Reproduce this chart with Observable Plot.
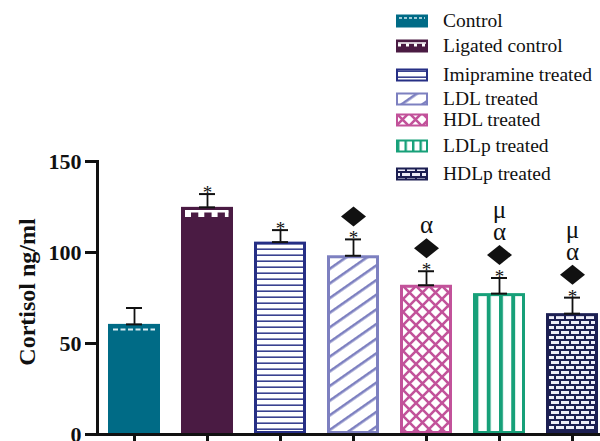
<!DOCTYPE html>
<html><head><meta charset="utf-8">
<script src="https://cdn.jsdelivr.net/npm/d3@7"></script>
<script src="https://cdn.jsdelivr.net/npm/@observablehq/plot@0.6"></script>
<style>
html,body{margin:0;padding:0;background:#fff;overflow:hidden;}
#wrap{position:relative;width:600px;height:441px;overflow:hidden;}
#legend{position:absolute;left:0;top:0;font-family:"Liberation Serif","Times New Roman",serif;font-size:19.5px;color:#111;}
.row{position:absolute;display:flex;align-items:center;white-space:nowrap;height:24px;}
.row svg{display:block;}
</style></head><body>
<svg width="0" height="0" style="position:absolute">
<defs>
  <pattern id="pImip" patternUnits="userSpaceOnUse" width="10" height="6">
    <rect width="10" height="6" fill="#fff"/>
    <rect y="2.4" width="10" height="1.6" fill="#3a4290"/>
  </pattern>
  <pattern id="pLDL" patternUnits="userSpaceOnUse" width="14" height="12" patternTransform="rotate(-35)">
    <rect width="14" height="12" fill="#fff"/>
    <rect y="0" width="14" height="2.6" fill="#7d80c0"/>
  </pattern>
  <pattern id="pHDL" patternUnits="userSpaceOnUse" width="13" height="13">
    <rect width="13" height="13" fill="#fff"/>
    <path d="M-2,-2L15,15M15,-2L-2,15" stroke="#c2529a" stroke-width="2.6"/>
  </pattern>
  <pattern id="pLDLp" patternUnits="objectBoundingBox" width="0.25" height="1" patternContentUnits="objectBoundingBox">
    <rect width="0.25" height="1" fill="#fff"/>
    <rect x="0" width="0.08" height="1" fill="#17a079"/>
  </pattern>
  <pattern id="pHDLp" patternUnits="userSpaceOnUse" width="20" height="10">
    <rect width="20" height="10" fill="#1c1f52"/>
    <rect x="1" y="1" width="8" height="3" fill="#eeeef8"/>
    <rect x="11" y="1" width="8" height="3" fill="#eeeef8"/>
    <rect x="0" y="6" width="4" height="3" fill="#eeeef8"/>
    <rect x="6" y="6" width="8" height="3" fill="#eeeef8"/>
    <rect x="16" y="6" width="4" height="3" fill="#eeeef8"/>
  </pattern>
</defs>
</svg>
<div id="wrap"><div id="legend"></div></div>
<script>
// ---- data ----
const groups = ["Control", "Ligated control", "Imipramine treated", "LDL treated", "HDL treated", "LDLp treated", "HDLp treated"];
const cortisol = [60.5, 124.8, 105.7, 98.2, 82.0, 77.4, 66.4];
const sem = [9.0, 7.3, 6.6, 9.0, 7.7, 8.6, 8.8];
const star = [false, true, true, true, true, true, true];
const diamond = [false, false, false, true, true, true, true];
const alpha = [false, false, false, false, true, true, true];
const mu = [false, false, false, false, false, true, true];
const yTicks = [0, 50, 100, 150];
const yLabel = "Cortisol ng/ml";
const fills = ["#006b86", "#4a1b43", "url(#pImip)", "url(#pLDL)", "url(#pHDL)", "url(#pLDLp)", "url(#pHDLp)"];
const strokes = ["#006b86", "#4a1b43", "#262f85", "#7d80c0", "#c2529a", "#17a079", "#1c1f52"];

const rows = groups.map((g, i) => ({
  g, v: cortisol[i], e: sem[i], top: cortisol[i] + sem[i],
  fill: fills[i], stroke: strokes[i],
  star: star[i], diamond: diamond[i], alpha: alpha[i], mu: mu[i]
}));

const serif = "Liberation Serif, Times New Roman, serif";
const diamondSym = {
  draw(ctx) { ctx.moveTo(0, -10); ctx.lineTo(12.5, 0); ctx.lineTo(0, 10); ctx.lineTo(-12.5, 0); ctx.closePath(); }
};

const chart = Plot.plot({
  width: 600,
  height: 441,
  marginLeft: 97,
  marginRight: -8,
  marginTop: 161,
  marginBottom: 7,
  style: {fontFamily: serif, color: "#111", background: "transparent"},
  x: {domain: groups, paddingInner: 0.29, paddingOuter: 0.145},
  y: {domain: [0, 150]},
  color: {type: "identity"},
  marks: [
    Plot.barY(rows, {x: "g", y: "v", fill: "fill", stroke: "stroke", strokeWidth: 3, inset: 1.5}),
    // control top dashed line
    Plot.tickY(rows.filter((d, i) => i === 0), {x: "g", y: "v", dy: 5, stroke: "#d6ecf2", strokeWidth: 2, strokeDasharray: "5,2.5", insetLeft: 5, insetRight: 5}),
    // ligated crenellation
    Plot.tickY(rows.filter((d, i) => i === 1), {x: "g", y: "v", dy: 4, stroke: "#fff", strokeWidth: 2.5, insetLeft: 4, insetRight: 4.5}),
    Plot.tickY(rows.filter((d, i) => i === 1), {x: "g", y: "v", dy: 7, stroke: "#fff", strokeWidth: 5.5, strokeDasharray: "6,7.3", insetLeft: 4, insetRight: 4.5}),
    // error bars
    Plot.ruleX(rows, {x: "g", y1: "v", y2: "top", stroke: "#111", strokeWidth: 1.8}),
    Plot.tickY(rows, {x: "g", y: "top", stroke: "#111", strokeWidth: 2, inset: 18}),
    Plot.tickY(rows, {x: "g", y: "v", stroke: "#111", strokeWidth: 2, inset: 18}),
    // significance marks
    Plot.text(rows.filter(d => d.star), {x: "g", y: "top", text: () => "*", dy: -1, fontSize: 19, fill: "#111"}),
    Plot.dot(rows.filter(d => d.diamond), {x: "g", y: "top", dy: -23, symbol: diamondSym, fill: "#111", stroke: null}),
    Plot.text(rows.filter(d => d.alpha), {x: "g", y: "top", text: () => "α", dy: -46, fontSize: 25, fill: "#111"}),
    Plot.text(rows.filter(d => d.mu), {x: "g", y: "top", text: () => "μ", dy: -68, fontSize: 25, fill: "#111"}),
    // axes
    Plot.axisY({ticks: yTicks, tickSize: 12, tickPadding: 4, strokeWidth: 3, fontSize: 22, fontWeight: "bold", label: null, stroke: "#111", fill: "#111"}),
    Plot.axisX({tickSize: 9, strokeWidth: 3, tickFormat: () => "", label: null, stroke: "#111"}),
    Plot.frame({anchor: "left", strokeWidth: 3, stroke: "#111"}),
    Plot.ruleY([0], {strokeWidth: 3, stroke: "#111"}),
    Plot.text([yLabel], {frameAnchor: "left", textAnchor: "middle", text: d => d, rotate: -90, dx: -70, dy: -6, fontSize: 24, fontWeight: "bold", fill: "#111"})
  ]
});
document.getElementById("wrap").prepend(chart);

// ---- legend ----
const legendY = [21, 46, 75, 99, 120, 146, 174];
const legend = document.getElementById("legend");
groups.forEach((g, i) => {
  const row = document.createElement("div");
  row.className = "row";
  row.style.left = "396px";
  row.style.top = (legendY[i] - 12) + "px";
  const sw = d3.create("svg").attr("width", 32).attr("height", 14).style("margin-right", "15px");
  sw.append("rect").attr("x", 1).attr("y", 1.5).attr("width", 30).attr("height", 11)
    .attr("fill", fills[i]).attr("stroke", strokes[i]).attr("stroke-width", 2);
  if (i === 0) sw.append("line").attr("x1", 3).attr("x2", 29).attr("y1", 4).attr("y2", 4).attr("stroke", "#d6ecf2").attr("stroke-width", 1.5).attr("stroke-dasharray", "3,2");
  if (i === 1) {
    sw.append("line").attr("x1", 2).attr("x2", 30).attr("y1", 4).attr("y2", 4).attr("stroke", "#fff").attr("stroke-width", 1.5);
    sw.append("line").attr("x1", 2).attr("x2", 30).attr("y1", 6).attr("y2", 6).attr("stroke", "#fff").attr("stroke-width", 3).attr("stroke-dasharray", "3,5");
  }
  row.appendChild(sw.node());
  const t = document.createElement("span");
  t.textContent = g;
  row.appendChild(t);
  legend.appendChild(row);
});
</script>
</body></html>
